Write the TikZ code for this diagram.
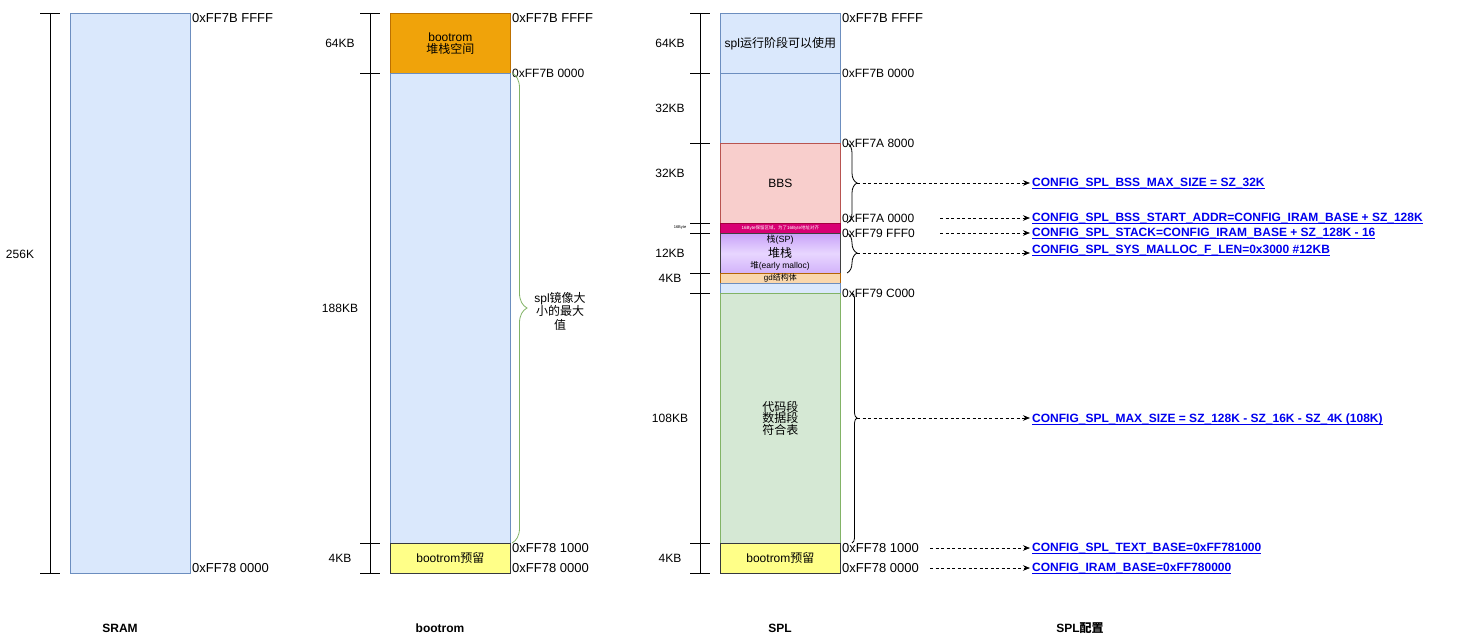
\documentclass[tikz,border=0pt]{standalone}
\usepackage{fontspec}
\setmainfont{Liberation Sans}
\newfontfamily\cjk{Noto Sans CJK SC}
\usetikzlibrary{arrows.meta,decorations.pathreplacing}
\definecolor{bluef}{HTML}{DAE8FC}\definecolor{blued}{HTML}{6C8EBF}
\definecolor{orangef}{HTML}{F0A30A}\definecolor{oranged}{HTML}{BD7000}
\definecolor{yellowf}{HTML}{FFFF88}\definecolor{yellowd}{HTML}{36393D}
\definecolor{pinkf}{HTML}{F8CECC}\definecolor{pinkd}{HTML}{B85450}
\definecolor{magf}{HTML}{D80073}\definecolor{magd}{HTML}{A50040}
\definecolor{purt}{HTML}{C8A2F8}\definecolor{purm}{HTML}{E8D6FF}\definecolor{purb}{HTML}{D2B2FA}
\definecolor{gdf}{HTML}{FAD7AC}\definecolor{gdd}{HTML}{B46504}
\definecolor{greenf}{HTML}{D5E8D4}\definecolor{greend}{HTML}{82B366}
\definecolor{linkc}{HTML}{0000EE}
\newcommand\fsz[2]{\fontsize{#1}{#2}\selectfont}
\newsavebox\ulbox
\newcommand\myul[1]{\sbox\ulbox{#1}\rlap{\rule[-2.6pt]{\wd\ulbox}{1.1pt}}\usebox\ulbox}
\begin{document}
\begin{tikzpicture}[x=1pt,y=-1pt,
  blk/.style={draw, inner sep=0pt, anchor=north west, minimum width=120pt, line width=0.8pt, align=center, font=\fsz{12}{13.5}},
  bl/.style={fill=bluef, draw=blued},
  yl/.style={fill=yellowf, draw=yellowd},
  dim/.style={line width=0.8pt, black},
  addr/.style={anchor=west, inner sep=1pt, font=\fsz{13}{15}},
  addrs/.style={anchor=west, inner sep=1pt, font=\fsz{12}{14}},
  lbl/.style={inner sep=0pt, font=\fsz{12}{14}},
  cfg/.style={anchor=west, inner sep=2pt, text=linkc, font=\bfseries\fsz{12}{14}},
  darr/.style={dashed, dash pattern=on 3pt off 2.5pt, line width=0.7pt, -{Stealth[length=7pt,width=5.5pt]}},
  title/.style={font=\bfseries\fsz{12}{14}},
  brc/.style={decorate, line width=0.8pt}
]
\useasboundingbox (0,0) rectangle (1461,644);

% ---------- SRAM ----------
\node[blk, bl, minimum height=560pt] (sram) at (70,13) {};
\draw[dim] (50,13) -- (50,573);
\draw[dim] (40,13) -- (60,13);
\draw[dim] (40,573) -- (60,573);
\node[lbl] (l256) at (20,254) {256K};
\node[addr] (sa1) at (191,18) {0xFF7B FFFF};
\node[addr] (sa2) at (191,568) {0xFF78 0000};

% ---------- bootrom ----------
\node[blk, fill=orangef, draw=oranged, minimum height=60pt] (bstk) at (390,13) {bootrom\\[-2pt]{\cjk 堆栈空间}};
\node[blk, bl, minimum height=470pt] (bimg) at (390,73) {};
\node[blk, yl, minimum height=30pt] (bres) at (390,543) {bootrom{\cjk 预留}};
\draw[dim] (370,13) -- (370,573);
\foreach \yy in {13,73,543,573} \draw[dim] (360,\yy) -- (380,\yy);
\node[lbl] (b64) at (340,43) {64KB};
\node[lbl] (b188) at (340,308) {188KB};
\node[lbl] (b4) at (340,558) {4KB};
\node[addr] (ba1) at (511,18) {0xFF7B FFFF};
\node[addrs] (ba2) at (511,73) {0xFF7B 0000};
\node[addr] (ba3) at (511,548) {0xFF78 1000};
\node[addr] (ba4) at (511,568) {0xFF78 0000};
\draw[brc, greend, decoration={brace, amplitude=15pt}] (512,73) -- (512,543);
\node[lbl, align=center, font=\fsz{12}{13.5}] (bmax) at (560,311) {spl{\cjk 镜像大}\\{\cjk 小的最大}\\{\cjk 值}};

% ---------- SPL ----------
\node[blk, bl, minimum height=60pt] (s1) at (720,13) {spl{\cjk 运行阶段可以使用}};
\node[blk, bl, minimum height=70pt] (s2) at (720,73) {};
\node[blk, fill=pinkf, draw=pinkd, minimum height=80pt] (s3) at (720,143) {BBS};
\node[blk, fill=magf, draw=magd, minimum height=10pt, text=white, font=\fsz{4.5}{5}] (s4) at (720,223) {16Byte{\cjk 保留区域，为了}16Byte{\cjk 地址对齐}};
\node[blk, draw=black!75, top color=purt, bottom color=purb, middle color=purm, minimum height=40pt] (s5) at (720,233) {};
\node[blk, fill=gdf, draw=gdd, minimum height=10pt, font=\fsz{8}{9}] (s6) at (720,273) {gd{\cjk 结构体}};
\node[blk, bl, minimum height=10pt] (s7) at (720,283) {};
\node[blk, fill=greenf, draw=greend, minimum height=250pt] (s8) at (720,293) {{\cjk 代码段}\\[-2pt]{\cjk 数据段}\\[-2pt]{\cjk 符合表}};
\node[blk, yl, minimum height=30pt] (s9) at (720,543) {bootrom{\cjk 预留}};
\node[lbl, font=\fsz{9}{10}] (sp) at (780,240) {{\cjk 栈}(SP)};
\node[lbl, font=\fsz{12}{13}] (dz) at (780,253) {\cjk 堆栈};
\node[lbl, font=\fsz{8.5}{10}] (hp) at (780,266) {{\cjk 堆}(early malloc)};

\draw[dim] (700,13) -- (700,573);
\foreach \yy in {13,73,143,223,233,273,293,543,573} \draw[dim] (690,\yy) -- (710,\yy);
\node[lbl] (p64) at (670,43) {64KB};
\node[lbl] (p32a) at (670,108) {32KB};
\node[lbl] (p32b) at (670,173) {32KB};
\node[lbl, font=\fsz{4}{5}] (p16) at (680,228) {16Byte};
\node[lbl] (p12) at (670,253) {12KB};
\node[lbl] (p4a) at (670,278) {4KB};
\node[lbl] (p108) at (670,418) {108KB};
\node[lbl] (p4b) at (670,558) {4KB};

\node[addr] (pa1) at (841,18) {0xFF7B FFFF};
\node[addrs] (pa2) at (841,73) {0xFF7B 0000};
\node[addrs] (pa3) at (841,143) {0xFF7A 8000};
\node[addrs] (pa4) at (841,218) {0xFF7A 0000};
\node[addrs] (pa5) at (841,233) {0xFF79 FFF0};
\node[addrs] (pa6) at (841,293) {0xFF79 C000};
\node[addr] (pa7) at (841,548) {0xFF78 1000};
\node[addr] (pa8) at (841,568) {0xFF78 0000};

\draw[brc, decoration={brace, amplitude=10pt}] (847,143) -- (847,223);
\draw[brc, decoration={brace, amplitude=10pt}] (847,233) -- (847,273);
\draw[brc, decoration={brace, amplitude=5pt}] (852,293) -- (852,543);
\coordinate (t1) at (857,183);
\coordinate (t2) at (940,218);
\coordinate (t3) at (940,233);
\coordinate (t4) at (857,253);
\coordinate (t5) at (857,418);
\coordinate (t6) at (930,548);
\coordinate (t7) at (930,568);

% ---------- config ----------
\node[cfg] (c1) at (1030,184) {\myul{CONFIG\_SPL\_BSS\_MAX\_SIZE = SZ\_32K}};
\node[cfg] (c2) at (1030,219) {\myul{CONFIG\_SPL\_BSS\_START\_ADDR=CONFIG\_IRAM\_BASE + SZ\_128K}};
\node[cfg] (c3) at (1030,234) {\myul{CONFIG\_SPL\_STACK=CONFIG\_IRAM\_BASE + SZ\_128K - 16}};
\node[cfg] (c4) at (1030,251) {\myul{CONFIG\_SPL\_SYS\_MALLOC\_F\_LEN=0x3000 \#12KB}};
\node[cfg] (c5) at (1030,419) {\myul{CONFIG\_SPL\_MAX\_SIZE = SZ\_128K - SZ\_16K - SZ\_4K (108K)}};
\node[cfg] (c6) at (1030,549) {\myul{CONFIG\_SPL\_TEXT\_BASE=0xFF781000}};
\node[cfg] (c7) at (1030,569) {\myul{CONFIG\_IRAM\_BASE=0xFF780000}};
\draw[darr] (t1) -- (t1 -| c1.west);
\draw[darr] (t2) -- (t2 -| c2.west);
\draw[darr] (t3) -- (t3 -| c3.west);
\draw[darr] (t4) -- (t4 -| c4.west);
\draw[darr] (t5) -- (t5 -| c5.west);
\draw[darr] (t6) -- (t6 -| c6.west);
\draw[darr] (t7) -- (t7 -| c7.west);

% ---------- titles ----------
\node[title] (ts) at (120,628) {SRAM};
\node[title] (tb) at (440,628) {bootrom};
\node[title] (tp) at (780,628) {SPL};
\node[title] (tc) at (1080,628) {SPL{\cjk 配置}};
\end{tikzpicture}
\end{document}
